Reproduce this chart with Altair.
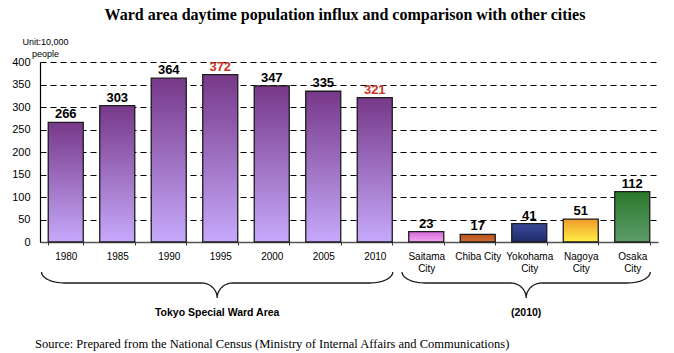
import math
import altair as alt
import pandas as pd

# ---------------- data ----------------
categories = ["1980", "1985", "1990", "1995", "2000", "2005", "2010",
              "Saitama|City", "Chiba City", "Yokohama|City", "Nagoya|City", "Osaka|City"]
values = [266, 303, 364, 372, 347, 335, 321, 23, 17, 41, 51, 112]
groups = ["Tokyo"] * 7 + ["Saitama", "Chiba", "Yokohama", "Nagoya", "Osaka"]
highlighted = ["1995", "2010"]
y_ticks = [0, 50, 100, 150, 200, 250, 300, 350, 400]
brace_groups = [["Tokyo"], ["Saitama", "Chiba", "Yokohama", "Nagoya", "Osaka"]]
brace_labels = ["Tokyo Special Ward Area", "(2010)"]
unit_label = ["Unit:10,000", "people"]
title_text = "Ward area daytime population influx and comparison with other cities"
source_text = "Source: Prepared from the National Census (Ministry of Internal Affairs and Communications)"

# ---------------- styles ----------------
gradients = {
    "Tokyo": ("#773889", "#c6a9fb"),
    "Saitama": ("#d468d8", "#f2a6f2"),
    "Chiba": ("#b4521e", "#d2702e"),
    "Yokohama": ("#3a4a98", "#1e2c6c"),
    "Nagoya": ("#f0992c", "#fff046"),
    "Osaka": ("#2a782a", "#5d9c6c"),
}
RED = "#c9352b"
SANS = "Liberation Sans"
SERIF = "Liberation Serif"
W, H = 618, 180

df = pd.DataFrame({"cat": categories, "value": values, "group": groups})


def grad(top, bottom):
    return alt.Gradient(
        gradient="linear",
        stops=[alt.GradientStop(color=top, offset=0), alt.GradientStop(color=bottom, offset=1)],
        x1=0, x2=0, y1=0, y2=1,
    )


x_enc = alt.X(
    "cat:N",
    sort=categories,
    scale=alt.Scale(domain=categories, paddingInner=0.32, paddingOuter=0.16),
    axis=alt.Axis(
        title=None, labelAngle=0, labelExpr="split(datum.label, '|')",
        labelFont=SANS, labelFontSize=10, labelColor="black", labelLineHeight=12,
        labelPadding=6, ticks=True, tickBand="extent", tickSize=3, tickColor="#333",
        domainColor="#555", domainWidth=1.5, grid=False,
    ),
)
y_enc = alt.Y(
    "value:Q",
    scale=alt.Scale(domain=[0, 400], nice=False),
    axis=alt.Axis(
        values=y_ticks, title=unit_label, titleAngle=0, titleAlign="center",
        titleBaseline="top", titleX=5, titleY=-25, titleFont=SANS, titleFontSize=9,
        titleFontWeight="normal", titleLineHeight=12, titleColor="black",
        labelFont=SANS, labelFontSize=11, labelColor="black", labelPadding=10,
        ticks=False, domainColor="black", domainWidth=1.2,
        grid=True, gridColor="black", gridDash=[6, 4], gridWidth=1,
    ),
)

bar_layers = []
for g in gradients:
    top, bottom = gradients[g]
    bar_layers.append(
        alt.Chart(df)
        .transform_filter(alt.datum.group == g)
        .mark_bar(fill=grad(top, bottom), stroke="#1c1c1c", strokeWidth=1.3)
        .encode(x=x_enc, y=y_enc)
    )

value_text = (
    alt.Chart(df)
    .mark_text(dy=-4, baseline="alphabetic", fontWeight="bold", fontSize=13, font=SANS)
    .encode(
        x=x_enc, y=y_enc, text="value:Q",
        color=alt.condition(alt.FieldOneOfPredicate(field="cat", oneOf=highlighted),
                            alt.value(RED), alt.value("black")),
    )
)

main = alt.layer(*bar_layers, value_text)

# ---------------- braces ----------------
def brace_points(a, b, top, mid, tip, rx, rx2, n=14):
    m = (a + b) / 2
    pts = []
    for k in range(n + 1):
        th = k / n * math.pi / 2
        pts.append((a + rx * (1 - math.cos(th)), top + (mid - top) * math.sin(th)))
    for k in range(n + 1):
        th = k / n * math.pi / 2
        pts.append((m - rx2 + rx2 * math.sin(th), mid + (tip - mid) * (1 - math.cos(th))))
    for k in range(n, -1, -1):
        th = k / n * math.pi / 2
        pts.append((m + rx2 - rx2 * math.sin(th), mid + (tip - mid) * (1 - math.cos(th))))
    for k in range(n, -1, -1):
        th = k / n * math.pi / 2
        pts.append((b - rx * (1 - math.cos(th)), top + (mid - top) * math.sin(th)))
    return m, pts


brace_rows, label_rows = [], []
for bi, (members, label) in enumerate(zip(brace_groups, brace_labels)):
    idx = [i for i, g in enumerate(groups) if g in members]
    a, b = idx[0] + 0.03, idx[-1] + 0.85
    m, pts = brace_points(a, b, 210, 221, 236, 0.45, 0.3)
    for o, (px, py) in enumerate(pts):
        brace_rows.append({"brace": bi, "order": o, "x": px, "y": py})
    label_rows.append({"label": label, "x": m, "y": 251})

bx = alt.Scale(domain=[0, len(categories)], nice=False, zero=False)
by = alt.Scale(domain=[0, H], nice=False, zero=False, reverse=True)

brace_lines = (
    alt.Chart(pd.DataFrame(brace_rows))
    .mark_line(color="#1c1c1c", strokeWidth=1.3)
    .encode(x=alt.X("x:Q", scale=bx, axis=None), y=alt.Y("y:Q", scale=by, axis=None),
            detail="brace:N", order="order:Q")
)
brace_text = (
    alt.Chart(pd.DataFrame(label_rows))
    .mark_text(font=SANS, fontSize=10.5, fontWeight="bold", color="black", baseline="middle")
    .encode(x=alt.X("x:Q", scale=bx, axis=None), y=alt.Y("y:Q", scale=by, axis=None), text="label:N")
)
title_mark = (
    alt.Chart(alt.Data(values=[{"t": title_text}]))
    .mark_text(font=SERIF, fontSize=16, fontWeight="bold", color="black", baseline="middle", align="center")
    .encode(x=alt.value(305), y=alt.value(-47), text="t:N")
)
source_mark = (
    alt.Chart(alt.Data(values=[{"t": source_text}]))
    .mark_text(font=SERIF, fontSize=12.5, color="black", baseline="middle", align="left")
    .encode(x=alt.value(-5), y=alt.value(282), text="t:N")
)

annot = alt.layer(brace_lines, brace_text, title_mark, source_mark)

chart = (
    alt.layer(main, annot)
    .resolve_scale(x="independent", y="independent")
    .properties(width=W, height=H, autosize="none",
                padding={"left": 40, "top": 62, "right": 16, "bottom": 111},
                background="white")
    .configure_view(stroke=None)
)

chart.save("out.html", embed_options={"renderer": "svg", "actions": False})
